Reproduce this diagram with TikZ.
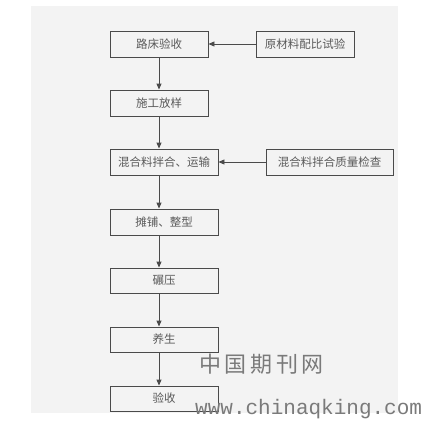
\documentclass[tikz,border=0pt]{standalone}
\usepackage{fontspec}
\newfontfamily\cjk{Noto Sans CJK SC}
\newfontfamily\wmono{Liberation Mono}
\usetikzlibrary{arrows.meta}
\definecolor{bgc}{HTML}{F3F3F3}
\definecolor{linec}{HTML}{4A4A4A}
\definecolor{txtc}{HTML}{5A5A5A}
\definecolor{wmc}{HTML}{7A7A7A}
\tikzset{
  stepbox/.style={draw=linec, line width=0.9pt, fill=bgc, inner sep=0pt, font=\cjk\fontsize{11.5}{11.5}\selectfont, text=txtc},
  flow/.style={draw=linec, line width=0.9pt, -{Triangle[length=6pt,width=5pt]}},
  wm/.style={text=wmc, inner sep=0pt}
}
\begin{document}
\begin{tikzpicture}[x=1pt,y=-1pt]
\useasboundingbox (0,0) rectangle (425,420);
\fill[white] (0,0) rectangle (425,420);
\fill[bgc] (31,6) rectangle (398,413);
% left column boxes
\node[stepbox, minimum width=98pt, minimum height=26pt] (a) at (159,44) {路床验收};
\node[stepbox, minimum width=98pt, minimum height=26pt] (b) at (159,103) {施工放样};
\node[stepbox, minimum width=108pt, minimum height=26pt] (c) at (164,162) {混合料拌合、运输};
\node[stepbox, minimum width=108pt, minimum height=26pt] (d) at (164,222) {摊铺、整型};
\node[stepbox, minimum width=108pt, minimum height=25pt] (e) at (164,280.5) {碾压};
\node[stepbox, minimum width=108pt, minimum height=25pt] (f) at (164,339.5) {养生};
\node[stepbox, minimum width=108pt, minimum height=25pt] (g) at (164,398.5) {验收};
% right boxes
\node[stepbox, minimum width=98pt, minimum height=26pt] (r1) at (305,44) {原材料配比试验};
\node[stepbox, minimum width=127pt, minimum height=26pt] (r2) at (329.5,162) {混合料拌合质量检查};
% arrows
\draw[flow] (r1.west) -- (a.east);
\draw[flow] (r2.west) -- (c.east);
\draw[flow] (a.south) -- (b.north);
\draw[flow] ([xshift=-5pt]c.south |- b.south) -- ([xshift=-5pt]c.north);
\draw[flow] ([xshift=-5pt]c.south) -- ([xshift=-5pt]d.north);
\draw[flow] ([xshift=-5pt]d.south) -- ([xshift=-5pt]e.north);
\draw[flow] ([xshift=-5pt]e.south) -- ([xshift=-5pt]f.north);
\draw[flow] ([xshift=-5pt]f.south) -- ([xshift=-5pt]g.north);
% watermark
\node[wm, font=\cjk\fontsize{22}{22}\selectfont, anchor=west] (w1) at (199,364) {中\,国\,期\,刊\,网};
\node[wm, font=\wmono\fontsize{21}{21}\selectfont, anchor=west] (w2) at (195,409) {www.chinaqking.com};
\end{tikzpicture}
\end{document}
